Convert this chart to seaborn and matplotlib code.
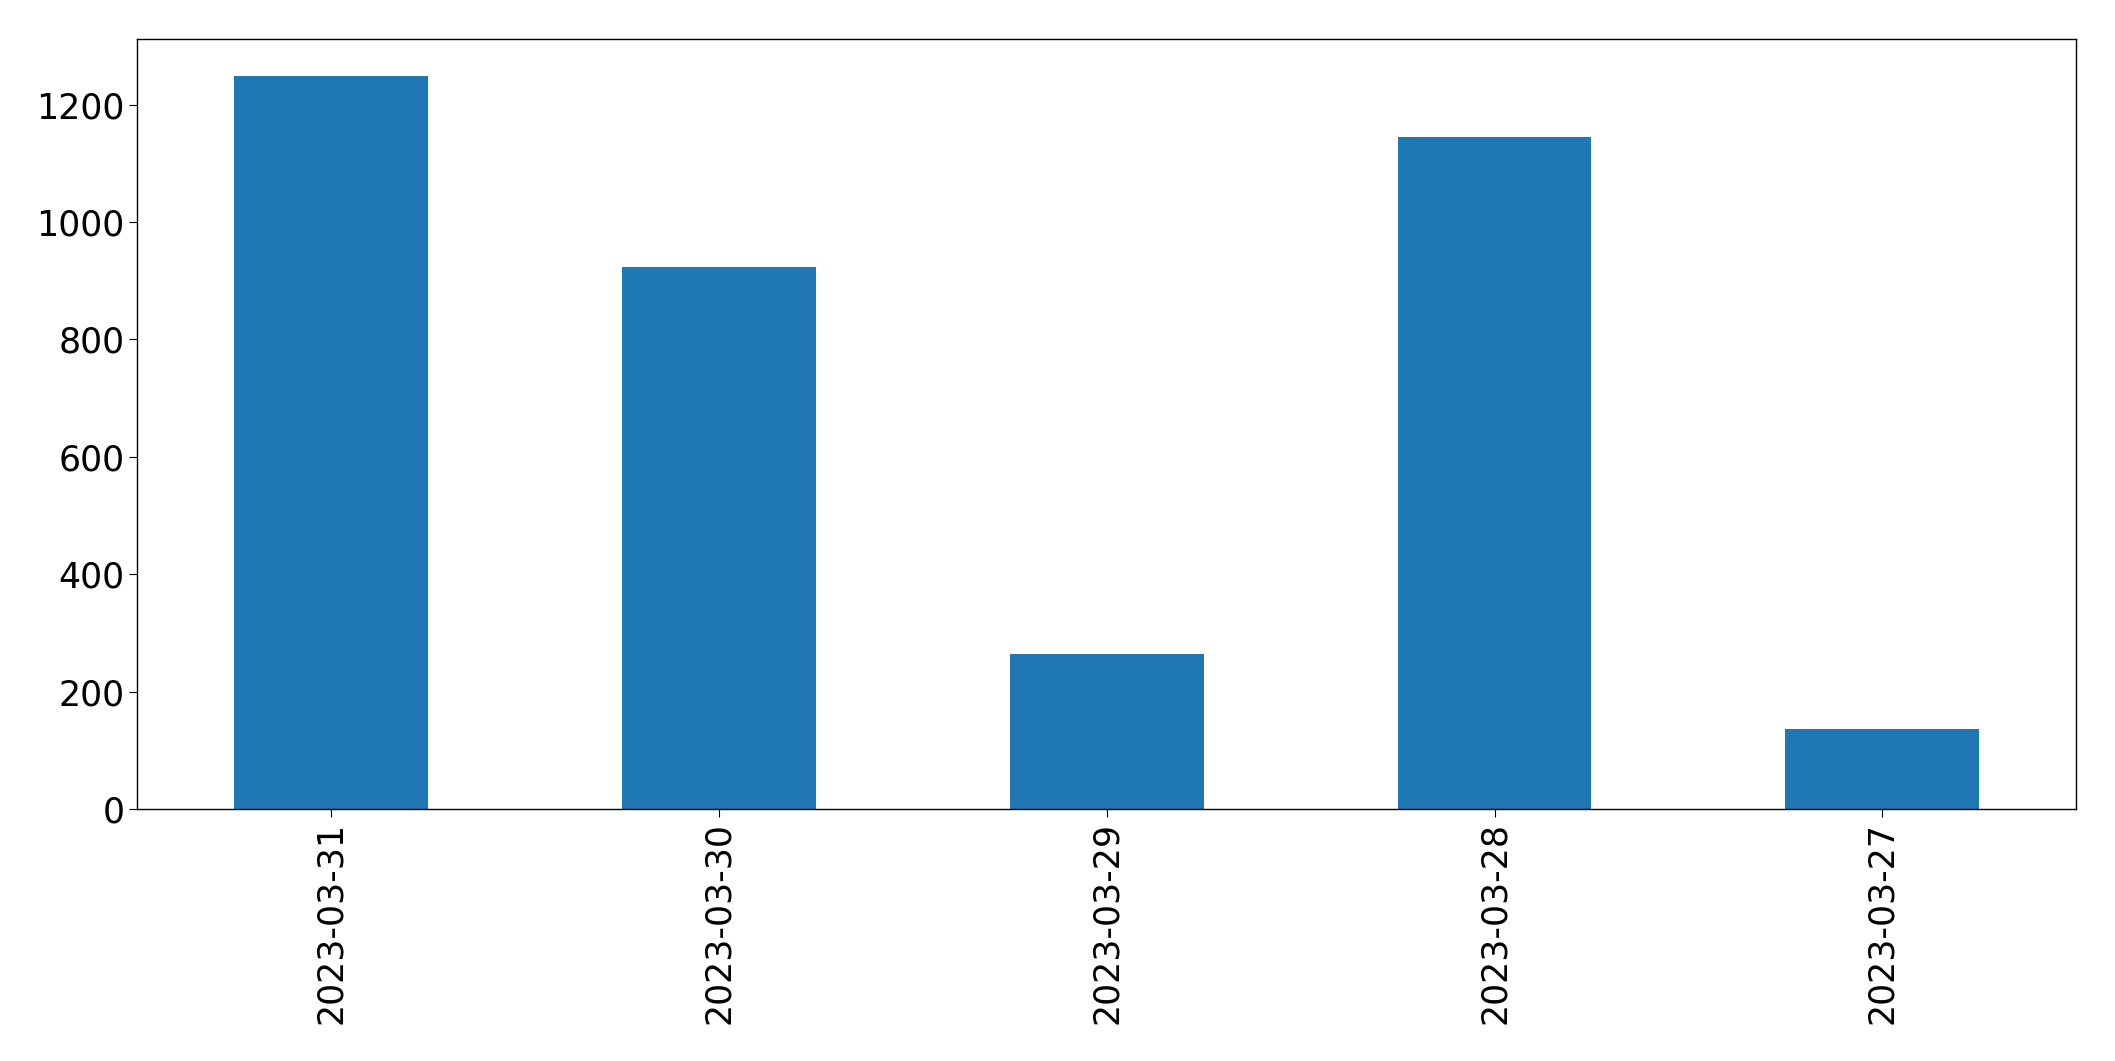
import matplotlib
matplotlib.use("Agg")
import matplotlib.pyplot as plt
import seaborn as sns
import pandas as pd

dates = ["2023-03-31", "2023-03-30", "2023-03-29", "2023-03-28", "2023-03-27"]
values = [1249, 924, 264, 1145, 136]

df = pd.DataFrame({"date": dates, "value": values})

fig = plt.figure(figsize=(21.15, 10.61), dpi=100)
ax = fig.add_axes([0.065, 0.2375, 0.9166, 0.7255])
sns.barplot(data=df, x="date", y="value", color="#1f77b4", saturation=1, width=0.5, ax=ax)
ax.set_xlim(-0.5, len(dates) - 0.5)
ax.set_ylim(0, max(values) * 1.05)
ax.set_xlabel("")
ax.set_ylabel("")
ax.tick_params(axis="both", labelsize=25, length=6, colors="black")
ax.tick_params(axis="x", rotation=90)
for s in ax.spines.values():
    s.set_linewidth(1.0)
    s.set_color("black")
fig.savefig("out.png", dpi=100)
